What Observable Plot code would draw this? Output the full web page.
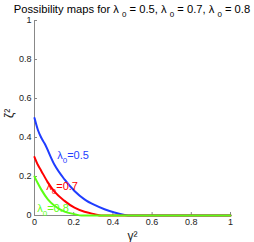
<!DOCTYPE html>
<html><head><meta charset="utf-8">
<script src="https://cdn.jsdelivr.net/npm/d3@7"></script>
<script src="https://cdn.jsdelivr.net/npm/@observablehq/plot@0.6"></script>
<style>body{margin:0;background:#fff}#chart{width:254px;height:242px}</style>
</head><body><div id="chart"></div>
<script>
// λ0 values and colours
const lambdaLabels = ["0.5", "0.7", "0.8"];
const seriesColors = ["#1f3dff", "#ff0000", "#5cff14"];
// curve for λ0 = 0.5
const gammaA = [0, 0.017, 0.034, 0.051, 0.102, 0.153, 0.204, 0.255, 0.306, 0.357, 0.408, 0.46, 0.49, 1];
const zetaA  = [0.5, 0.44, 0.40, 0.37, 0.26, 0.185, 0.126, 0.083, 0.054, 0.032, 0.015, 0.003, 0, 0];
// curve for λ0 = 0.7
const gammaB = [0, 0.017, 0.034, 0.068, 0.102, 0.153, 0.204, 0.255, 0.306, 0.34, 1];
const zetaB  = [0.30, 0.26, 0.23, 0.17, 0.122, 0.075, 0.04, 0.019, 0.007, 0, 0];
// curve for λ0 = 0.8
const gammaC = [0, 0.017, 0.034, 0.068, 0.102, 0.153, 0.204, 0.24, 1];
const zetaC  = [0.2, 0.165, 0.134, 0.083, 0.05, 0.02, 0.007, 0, 0];
// in-plot label anchors (data units)
const labelGamma = [0.116, 0.06, 0.014];
const labelZeta  = [0.31, 0.15, 0.036];
const ticks = [0, 0.2, 0.4, 0.6, 0.8, 1];
const xTitle = "γ²";
const yTitle = "ζ²";

const curves = [[gammaA, zetaA], [gammaB, zetaB], [gammaC, zetaC]];
const rows = curves.flatMap(([g, z], i) => g.map((x, j) => ({x, y: z[j], s: i})));
const labels = lambdaLabels.map((l, i) => ({x: labelGamma[i], y: labelZeta[i], t: "λ0=" + l, s: i}));
const fmt = d => String(+d.toFixed(1));

const plot = Plot.plot({
  width: 254, height: 242,
  marginLeft: 34, marginRight: 24, marginTop: 20, marginBottom: 27,
  style: {fontFamily: "'Liberation Sans', Arial, sans-serif", fontSize: "9px", color: "#222", background: "#fff"},
  x: {domain: [0, 1]},
  y: {domain: [0, 1]},
  color: {domain: [0, 1, 2], range: seriesColors},
  marks: [
    Plot.ruleX([0], {y1: 0, y2: 1, stroke: "#888"}),
    Plot.ruleY([0], {x1: 0, x2: 1, stroke: "#888"}),
    Plot.axisX({ticks, tickFormat: fmt, tickSize: -3, tickPadding: 6, stroke: "#888", label: null, fontSize: 9}),
    Plot.axisY({ticks, tickFormat: fmt, tickSize: -3, tickPadding: 6, stroke: "#888", label: null, fontSize: 9}),
    Plot.text([xTitle], {frameAnchor: "bottom", dy: 21, lineAnchor: "middle", fontSize: 12, fill: "#222"}),
    Plot.text([yTitle], {frameAnchor: "left", dx: -25, rotate: -90, lineAnchor: "middle", fontSize: 12, fill: "#222"}),
    Plot.line(rows, {x: "x", y: "y", z: "s", stroke: d => d.s, strokeWidth: 2, curve: "monotone-x"}),
    Plot.text(labels, {x: "x", y: "y", text: "t", fill: d => d.s, textAnchor: "start", fontSize: 11})
  ]
});
document.getElementById("chart").appendChild(plot);
const svg = d3.select(plot);
// subscript in curve labels
svg.selectAll("text").each(function() {
  const t = this.textContent;
  if (t.startsWith("λ0=")) {
    const el = d3.select(this);
    el.text(null);
    el.append("tspan").text("λ");
    el.append("tspan").attr("dy", "4.5px").attr("font-size", "8px").text("0");
    el.append("tspan").attr("dy", "-4.5px").text(t.slice(2));
  }
});
// title
const title = svg.append("text").attr("x", 132).attr("y", 13).attr("text-anchor", "middle")
  .attr("font-size", "11.2px").attr("fill", "#000");
lambdaLabels.forEach((l, i) => {
  title.append("tspan").text((i === 0 ? "Possibility maps for " : ", ") + "λ ");
  title.append("tspan").attr("dy", "4px").attr("font-size", "8px").text("0");
  title.append("tspan").attr("dy", "-4px").text(" = " + l);
});
</script>
</body></html>
